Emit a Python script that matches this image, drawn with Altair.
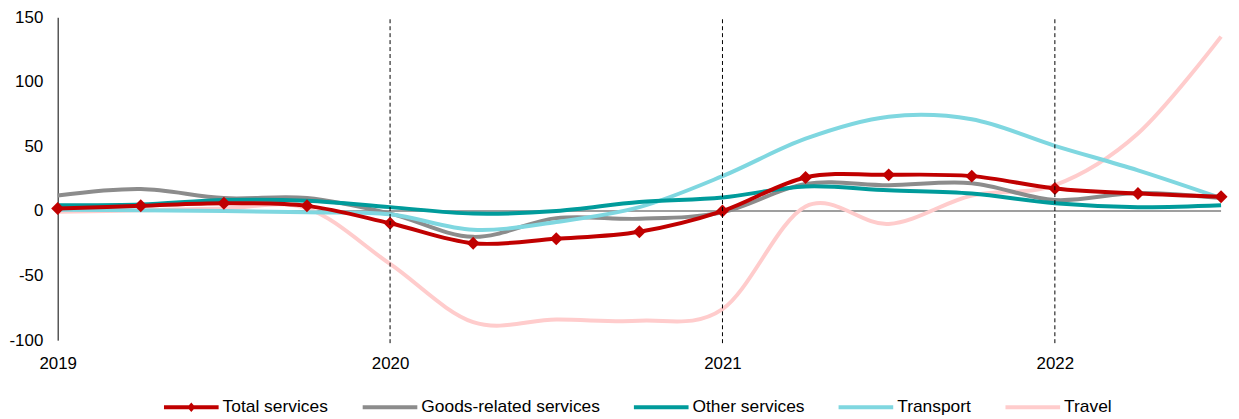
import altair as alt
import pandas as pd

FONT = "Liberation Sans"

quarters = ["2019Q1", "2019Q2", "2019Q3", "2019Q4",
            "2020Q1", "2020Q2", "2020Q3", "2020Q4",
            "2021Q1", "2021Q2", "2021Q3", "2021Q4",
            "2022Q1", "2022Q2", "2022Q3"]

total = [2, 4, 6, 4, -9.5, -25, -21.5, -16, 0, 26, 28, 27, 17.5, 13.5, 11]
goods = [12, 17, 10, 10, -2, -20, -5.5, -6, -1, 21, 20, 21.5, 8.5, 14, 10]
other = [4.5, 5, 8.5, 8, 3, -2, 0, 7, 10.5, 19, 16, 13.5, 6, 3, 4.5]
transport = [1, 0.5, 0, -1, -2.5, -14.5, -8.5, 3, 27, 56, 73, 71, 50.5, 31.5, 10]
travel = [-0.5, 0.5, 2, 2, -41, -86, -84, -85, -76, 3.5, -10, 12, 20, 60, 135]

series_names = ["Total services", "Goods-related services", "Other services", "Transport", "Travel"]
series_colors = ["#C00000", "#8C8C8C", "#009B9B", "#7FD7E0", "#FFCCCC"]
draw_order = ["Travel", "Goods-related services", "Transport", "Other services", "Total services"]

year_ticks = [2019, 2020, 2021, 2022]
y_ticks = [-100, -50, 0, 50, 100, 150]
vline_years = [2020, 2021, 2022]

LINE_SHAPE = "M-1,-0.075 L1,-0.075 L1,0.075 L-1,0.075 Z"
TOTAL_SHAPE = LINE_SHAPE + " M0,-0.17 L0.15,0 L0,0.17 L-0.15,0 Z"
legend_shapes = [TOTAL_SHAPE, LINE_SHAPE, LINE_SHAPE, LINE_SHAPE, LINE_SHAPE]


def qpos(q):
    return int(q[:4]) + (int(q[5]) - 1) / 4


rows = []
for name, vals in zip(series_names, [total, goods, other, transport, travel]):
    for q, v in zip(quarters, vals):
        rows.append({"series": name, "t": qpos(q), "value": v})
df = pd.DataFrame(rows)

first_rows = pd.DataFrame({
    "series": series_names,
    "t": [qpos(quarters[0])] * len(series_names),
    "value": [total[0], goods[0], other[0], transport[0], travel[0]],
})
vlines = pd.DataFrame({"t": vline_years})
zero = pd.DataFrame({"value": [0]})
color_of = dict(zip(series_names, series_colors))

x_scale = alt.Scale(domain=[2019, 2022.5], nice=False, zero=False)
y_scale = alt.Scale(domain=[-100, 150], nice=False, zero=False)
color_scale = alt.Scale(domain=series_names, range=series_colors)
shape_scale = alt.Scale(domain=series_names, range=legend_shapes)

x_axis = alt.Axis(values=year_ticks, format="d", title=None, domain=False, ticks=False,
                  grid=False, labelPadding=16, labelFontSize=17, labelFont=FONT,
                  labelColor="black", labelFlush=False)
y_axis = alt.Axis(values=y_ticks, title=None, domain=True, domainColor="black",
                  domainWidth=1, ticks=False, grid=False, labelPadding=15,
                  labelFontSize=17, labelFont=FONT, labelColor="black",
                  labelExpr="'' + datum.value")

X = alt.X("t:Q", scale=x_scale, axis=x_axis)
Y = alt.Y("value:Q", scale=y_scale, axis=y_axis)

legend = alt.Legend(orient="none", legendX=107, legendY=365, direction="horizontal",
                    columns=5, title=None, symbolSize=3025, symbolStrokeWidth=0,
                    symbolOpacity=1, labelFontSize=17.5, labelFont=FONT, labelLimit=500,
                    labelColor="black", labelOffset=4, columnPadding=34, padding=0)

zero_rule = alt.Chart(zero).mark_rule(color="#7F7F7F", strokeWidth=1.5).encode(y=Y)

line_layers = []
for name in draw_order:
    line_layers.append(
        alt.Chart(df).transform_filter(alt.datum.series == name)
        .mark_line(interpolate="cardinal", strokeWidth=4, strokeCap="butt",
                   color=color_of[name])
        .encode(x=X, y=Y)
    )

diamonds = (
    alt.Chart(df).transform_filter(alt.datum.series == "Total services")
    .mark_point(shape="diamond", filled=True, size=170, opacity=1,
                color=color_of["Total services"])
    .encode(x=X, y=Y)
)

dashed = (
    alt.Chart(vlines).mark_rule(color="black", strokeWidth=1, strokeDash=[4, 3])
    .encode(x=X, y=alt.value(2), y2=alt.value(331))
)

legend_layer = (
    alt.Chart(first_rows).mark_point(filled=True, opacity=0)
    .encode(
        x=X, y=Y,
        color=alt.Color("series:N", scale=color_scale, legend=legend),
        shape=alt.Shape("series:N", scale=shape_scale, legend=legend),
    )
)

chart = alt.layer(zero_rule, *line_layers, diamonds, dashed, legend_layer).properties(
    width=1171, height=325,
    autosize=alt.AutoSizeParams(type="none"),
    padding={"left": 50, "top": 8, "right": 10, "bottom": 78},
    background="white",
).configure_view(stroke=None)

chart.save("out.html", embed_options={"renderer": "svg", "actions": False})
